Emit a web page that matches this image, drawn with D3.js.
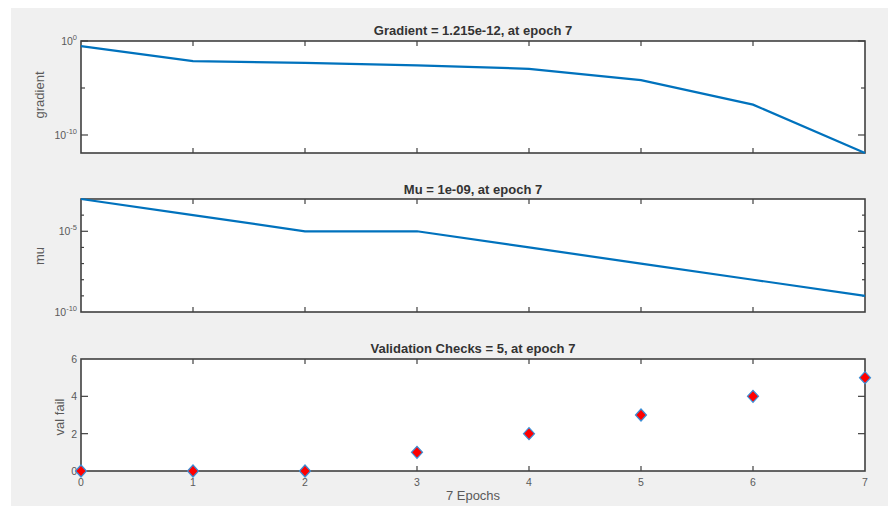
<!DOCTYPE html>
<html>
<head>
<meta charset="utf-8">
<script src="https://cdn.jsdelivr.net/npm/d3@7"></script>
<style>
body { margin: 0; background: #fff; }
svg { display: block; font-family: "Liberation Sans", Arial, sans-serif; }
</style>
</head>
<body>
<div id="chart"></div>
<script>
// training record, one entry per epoch
var epochs = [0, 1, 2, 3, 4, 5, 6, 7];
var gradient = [0.29, 7.4e-3, 4.6e-3, 2.6e-3, 1.1e-3, 7.0e-5, 1.7e-7, 1.215e-12];
var mu = [1e-3, 1e-4, 1e-5, 1e-5, 1e-6, 1e-7, 1e-8, 1e-9];
var valFail = [0, 0, 0, 1, 2, 3, 4, 5];
var titles = ["Gradient = 1.215e-12, at epoch 7", "Mu = 1e-09, at epoch 7", "Validation Checks = 5, at epoch 7"];
var ylabels = ["gradient", "mu", "val fail"];

var W = 888, H = 506;
var svg = d3.select("#chart").append("svg").attr("width", W).attr("height", H);
svg.append("rect").attr("x", 11).attr("y", 8).attr("width", W - 11).attr("height", H - 8).attr("fill", "#f0f0f0");

var left = 81, right = 865;
var x = d3.scaleLinear().domain([0, 7]).range([left, right]);
var axisCol = "#404040", labCol = "#5a5a5a", lineCol = "#0072bd";

function frame(top, bottom) {
  svg.append("rect").attr("x", left).attr("y", top).attr("width", right - left).attr("height", bottom - top)
    .attr("fill", "#fff").attr("stroke", axisCol).attr("stroke-width", 1.6);
  // x ticks on bottom and top, inward
  epochs.forEach(function(e) {
    if (e == 0 || e == 7) return;
    svg.append("line").attr("x1", x(e)).attr("x2", x(e)).attr("y1", bottom).attr("y2", bottom - 5)
      .attr("stroke", axisCol).attr("stroke-width", 1.2);
    svg.append("line").attr("x1", x(e)).attr("x2", x(e)).attr("y1", top).attr("y2", top + 5)
      .attr("stroke", axisCol).attr("stroke-width", 1.2);
  });
}

function ytick(y, len) {
  svg.append("line").attr("x1", left).attr("x2", left + len).attr("y1", y).attr("y2", y)
    .attr("stroke", axisCol).attr("stroke-width", 1.2);
  svg.append("line").attr("x1", right).attr("x2", right - len).attr("y1", y).attr("y2", y)
    .attr("stroke", axisCol).attr("stroke-width", 1.2);
}

function powLabel(y, exp) {
  var t = svg.append("text").attr("x", left - 4).attr("y", y + 4).attr("text-anchor", "end")
    .attr("fill", labCol).attr("font-size", 10.5);
  t.append("tspan").text("10");
  t.append("tspan").attr("dy", -5).attr("font-size", 7.5).text(exp);
}

function title(txt, y) {
  svg.append("text").attr("x", (left + right) / 2).attr("y", y).attr("text-anchor", "middle")
    .attr("font-size", 13).attr("font-weight", "bold").attr("fill", "#333").text(txt);
}

function ylab(txt, xx, y) {
  svg.append("text").attr("transform", "translate(" + xx + "," + y + ") rotate(-90)")
    .attr("text-anchor", "middle").attr("font-size", 13).attr("fill", labCol).text(txt);
}

// panel 1: gradient
var y1 = d3.scaleLog().domain([1.215e-12, 1]).range([153, 41]);
frame(41, 153);
[1, 1e-10].forEach(function(v) { ytick(y1(v), 7); });
ytick(y1(1e-5), 4);
powLabel(y1(1), "0");
powLabel(y1(1e-10), "-10");
svg.append("path").datum(epochs).attr("fill", "none").attr("stroke", lineCol).attr("stroke-width", 2.2)
  .attr("d", d3.line().x(function(d) { return x(d); }).y(function(d, i) { return y1(gradient[i]); }));
title(titles[0], 35);
ylab(ylabels[0], 44, 95);

// panel 2: mu
var y2 = d3.scaleLog().domain([1e-10, 1e-3]).range([312, 199]);
frame(199, 312);
[1e-4, 1e-6, 1e-7, 1e-8, 1e-9].forEach(function(v) { ytick(y2(v), 3); });
ytick(y2(1e-5), 7);
powLabel(y2(1e-5), "-5");
powLabel(y2(1e-10), "-10");
svg.append("path").datum(epochs).attr("fill", "none").attr("stroke", lineCol).attr("stroke-width", 2.2)
  .attr("d", d3.line().x(function(d) { return x(d); }).y(function(d, i) { return y2(mu[i]); }));
title(titles[1], 194);
ylab(ylabels[1], 44, 256);

// panel 3: validation checks
var y3 = d3.scaleLinear().domain([0, 6]).range([471, 359]);
frame(359, 471);
[2, 4].forEach(function(v) { ytick(y3(v), 7); });
[0, 2, 4, 6].forEach(function(v) {
  svg.append("text").attr("x", left - 4).attr("y", y3(v) + 4).attr("text-anchor", "end")
    .attr("fill", labCol).attr("font-size", 10.5).text(v);
});
epochs.forEach(function(e) {
  svg.append("text").attr("x", x(e)).attr("y", 486).attr("text-anchor", "middle")
    .attr("fill", labCol).attr("font-size", 10.5).text(e);
});
svg.append("g").selectAll("path").data(epochs).enter().append("path")
  .attr("transform", function(d, i) { return "translate(" + x(d) + "," + y3(valFail[i]) + ")"; })
  .attr("d", "M0,-6L5.5,0L0,6L-5.5,0Z")
  .attr("fill", "#ff0000").attr("stroke", "#3c8fd6").attr("stroke-width", 1.2);
title(titles[2], 353);
ylab(ylabels[2], 64, 417);
svg.append("text").attr("x", (left + right) / 2).attr("y", 500).attr("text-anchor", "middle")
  .attr("font-size", 13).attr("fill", labCol).text("7 Epochs");
</script>
</body>
</html>
